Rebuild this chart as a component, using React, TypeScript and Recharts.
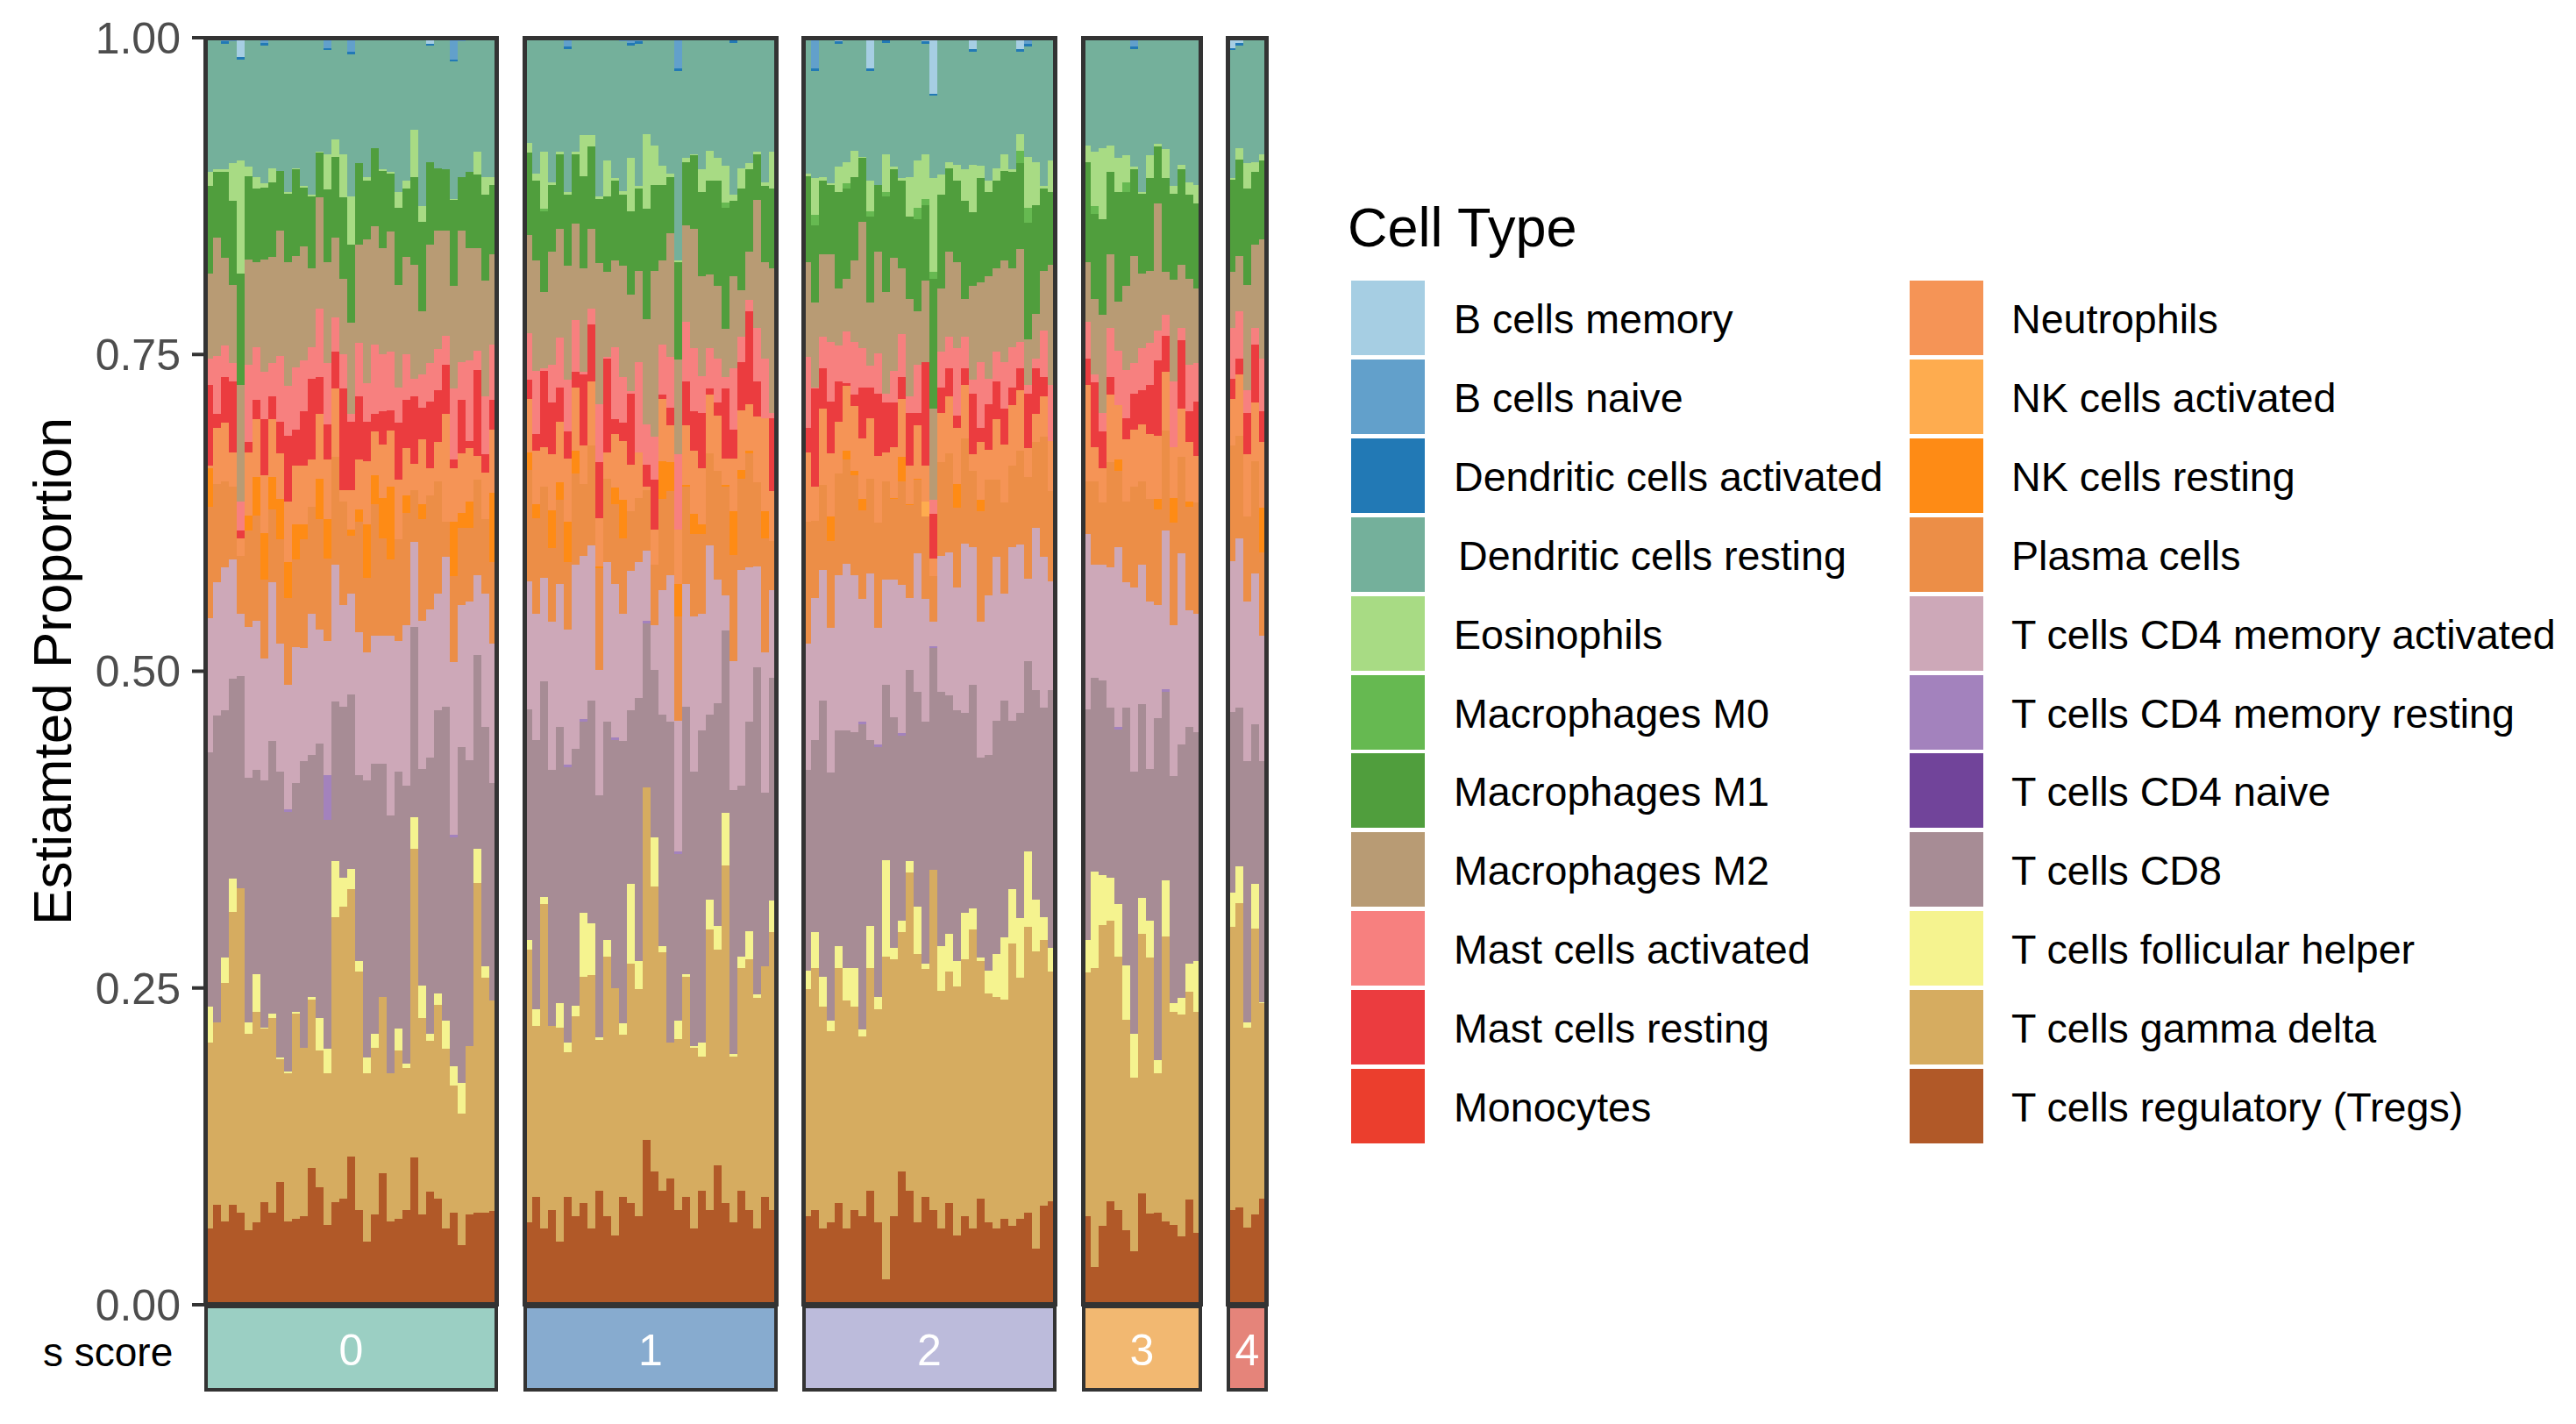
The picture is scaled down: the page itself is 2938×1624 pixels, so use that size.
import { BarChart, Bar, XAxis, YAxis } from "recharts";

// Upper edge of each stacked layer, one line per s score group
const topTregs = [
  .060,.079,.066,.079,.073,.059,.065,.081,.073,.097,.066,.068,.070,.108,.093,.063,.081,.084,.117,.075,.050,.071,.104,.066,.068,.075,.116,.071,.089,.084,.060,.073,.047,.071,.073,.073,.074,
  .065,.085,.060,.075,.050,.085,.070,.080,.060,.090,.070,.055,.085,.080,.070,.130,.105,.090,.100,.075,.085,.060,.090,.075,.110,.080,.065,.090,.075,.060,.085,.075,
  .070,.075,.060,.065,.080,.060,.075,.070,.090,.065,.020,.070,.105,.090,.065,.085,.075,.060,.080,.055,.070,.060,.084,.065,.060,.068,.062,.068,.073,.044,.078,.082,
  .070,.030,.062,.082,.075,.059,.042,.088,.072,.073,.066,.063,.054,.083,.057,
  .075,.077,.061,.071,.084,
];
const topGammaDelta = [
  .207,.223,.254,.310,.329,.214,.231,.218,.226,.194,.183,.230,.203,.241,.201,.183,.306,.314,.328,.263,.183,.203,.243,.183,.201,.187,.360,.226,.208,.237,.202,.173,.151,.204,.333,.258,.240,
  .280,.220,.316,.220,.219,.199,.228,.259,.260,.209,.275,.250,.213,.269,.249,.408,.330,.278,.207,.210,.259,.203,.196,.296,.280,.347,.196,.266,.273,.242,.267,.294,
  .249,.266,.235,.216,.266,.240,.235,.212,.266,.233,.275,.273,.294,.341,.277,.265,.343,.248,.263,.251,.273,.296,.271,.246,.243,.241,.285,.258,.298,.279,.288,.263,
  .262,.266,.300,.303,.275,.225,.179,.293,.274,.183,.291,.231,.229,.247,.231,
  .298,.317,.219,.297,.238,
];
const topFollicular = [
  .235,.223,.274,.336,.329,.223,.261,.219,.230,.195,.184,.231,.203,.243,.226,.202,.350,.337,.344,.271,.195,.214,.243,.183,.218,.190,.385,.252,.214,.246,.224,.188,.175,.204,.360,.267,.240,
  .288,.233,.322,.220,.238,.207,.236,.309,.301,.211,.288,.250,.222,.332,.271,.408,.369,.283,.207,.224,.261,.204,.207,.320,.299,.388,.198,.275,.295,.245,.267,.319,
  .264,.294,.259,.224,.283,.266,.266,.217,.299,.243,.351,.282,.303,.350,.314,.269,.343,.283,.293,.271,.309,.313,.274,.264,.277,.290,.328,.305,.358,.320,.306,.282,
  .288,.342,.339,.337,.316,.268,.214,.321,.303,.193,.335,.238,.242,.269,.271,
  .325,.346,.223,.332,.239,
];
const topCd8 = [
  .436,.465,.469,.494,.496,.416,.422,.414,.445,.421,.389,.412,.429,.434,.443,.383,.476,.472,.482,.418,.414,.427,.427,.386,.421,.410,.535,.423,.432,.469,.472,.369,.440,.430,.513,.456,.412,
  .470,.446,.492,.422,.456,.424,.439,.460,.477,.402,.460,.446,.445,.469,.479,.538,.501,.466,.460,.356,.472,.421,.453,.466,.475,.532,.406,.410,.460,.503,.404,.495,
  .422,.446,.477,.420,.453,.453,.452,.458,.446,.440,.489,.464,.449,.501,.484,.460,.518,.484,.481,.469,.467,.489,.432,.434,.461,.477,.461,.467,.508,.485,.471,.485,
  .470,.495,.493,.471,.454,.471,.421,.474,.423,.463,.484,.417,.442,.456,.452,
  .468,.471,.429,.458,.429,
];
const topCd4Activated = [
  .542,.570,.582,.588,.545,.535,.540,.510,.570,.522,.489,.519,.518,.545,.533,.524,.584,.552,.561,.531,.515,.528,.528,.528,.524,.536,.602,.540,.549,.561,.590,.507,.552,.555,.576,.561,.522,
  .571,.545,.574,.539,.569,.533,.584,.591,.599,.501,.586,.569,.545,.579,.586,.595,.536,.564,.576,.461,.569,.543,.545,.599,.572,.560,.508,.580,.582,.583,.515,.564,
  .522,.558,.580,.534,.576,.585,.576,.557,.577,.534,.572,.572,.568,.558,.593,.557,.539,.591,.594,.566,.601,.598,.539,.560,.590,.561,.598,.600,.573,.613,.590,.571,
  .608,.584,.584,.582,.598,.570,.566,.584,.555,.552,.611,.536,.593,.548,.545,
  .587,.605,.555,.577,.528,
];
const topPlasma = [
  .630,.648,.650,.646,.591,.611,.623,.572,.628,.604,.558,.588,.604,.630,.620,.589,.669,.634,.607,.618,.574,.632,.605,.588,.604,.625,.643,.620,.639,.650,.618,.575,.613,.613,.651,.620,.586,
  .659,.621,.646,.597,.635,.586,.656,.648,.678,.581,.652,.632,.605,.626,.637,.643,.584,.636,.642,.543,.646,.608,.608,.672,.658,.646,.592,.652,.672,.649,.605,.603,
  .618,.619,.647,.603,.656,.667,.655,.627,.652,.617,.650,.636,.650,.631,.651,.622,.575,.665,.672,.629,.684,.658,.626,.651,.651,.633,.662,.674,.653,.681,.685,.642,
  .650,.650,.633,.665,.658,.634,.646,.650,.636,.628,.690,.617,.669,.630,.633,
  .678,.686,.622,.666,.594,
];
const topNkResting = [
  .660,.648,.650,.646,.591,.623,.653,.609,.653,.636,.586,.616,.616,.630,.652,.620,.669,.634,.612,.628,.616,.655,.637,.646,.604,.639,.643,.632,.639,.650,.618,.618,.625,.634,.651,.620,.641,
  .673,.632,.646,.627,.649,.618,.674,.648,.678,.583,.652,.645,.635,.626,.637,.643,.584,.666,.665,.569,.647,.624,.616,.672,.658,.647,.626,.659,.674,.649,.626,.603,
  .618,.619,.647,.622,.656,.674,.658,.636,.652,.617,.650,.637,.669,.632,.652,.622,.575,.665,.672,.648,.684,.658,.635,.651,.651,.633,.662,.674,.653,.681,.685,.642,
  .650,.650,.633,.665,.667,.634,.646,.650,.636,.636,.690,.637,.669,.634,.633,
  .678,.686,.622,.666,.629,
];
const topNeutrophils = [
  .662,.692,.696,.673,.605,.673,.699,.655,.699,.672,.634,.662,.662,.667,.703,.667,.723,.643,.643,.667,.666,.689,.679,.690,.651,.676,.664,.683,.660,.681,.703,.660,.672,.676,.670,.657,.691,
  .715,.674,.677,.671,.697,.668,.724,.678,.729,.621,.673,.687,.682,.663,.673,.646,.612,.715,.694,.612,.694,.674,.660,.718,.702,.668,.668,.706,.711,.701,.700,.642,
  .673,.646,.707,.672,.697,.725,.709,.684,.700,.670,.673,.677,.715,.662,.694,.662,.589,.704,.717,.692,.726,.671,.681,.675,.699,.679,.710,.722,.676,.703,.717,.682,
  .726,.677,.660,.718,.710,.683,.691,.695,.687,.686,.736,.677,.707,.681,.670,
  .715,.734,.671,.712,.681,
];
const topMastResting = [
  .726,.703,.732,.729,.611,.681,.714,.699,.717,.697,.686,.691,.705,.731,.732,.695,.752,.723,.697,.717,.697,.703,.705,.706,.696,.714,.717,.708,.713,.722,.742,.667,.714,.682,.738,.671,.714,
  .730,.687,.737,.712,.724,.689,.736,.734,.774,.665,.747,.699,.696,.719,.673,.663,.651,.718,.708,.612,.729,.705,.704,.723,.712,.723,.691,.744,.784,.729,.700,.700,
  .692,.723,.739,.713,.729,.727,.718,.724,.724,.719,.712,.712,.732,.704,.704,.744,.624,.724,.739,.702,.739,.719,.692,.711,.729,.707,.724,.739,.719,.739,.732,.682,
  .747,.728,.689,.732,.710,.700,.719,.722,.726,.745,.765,.677,.761,.705,.713,
  .731,.747,.704,.758,.705,
];
const topMastActivated = [
  .747,.749,.757,.743,.634,.742,.756,.736,.743,.749,.725,.740,.745,.756,.786,.743,.779,.750,.703,.759,.727,.758,.750,.752,.724,.750,.731,.734,.743,.754,.765,.723,.744,.745,.753,.717,.758,
  .767,.737,.739,.742,.763,.730,.777,.736,.786,.711,.748,.756,.732,.721,.744,.695,.685,.758,.748,.671,.776,.755,.733,.755,.747,.732,.739,.764,.793,.771,.747,.704,
  .748,.724,.764,.760,.757,.768,.760,.755,.741,.751,.719,.737,.766,.717,.742,.742,.635,.752,.764,.755,.764,.730,.744,.731,.752,.744,.756,.760,.726,.747,.769,.726,
  .776,.734,.704,.771,.753,.738,.743,.755,.759,.769,.781,.729,.771,.742,.743,
  .771,.784,.722,.771,.747,
];
const topM2 = [
  .814,.842,.826,.805,.726,.825,.823,.825,.827,.848,.823,.828,.835,.818,.874,.823,.842,.810,.775,.837,.841,.851,.834,.847,.805,.827,.821,.784,.837,.848,.848,.804,.848,.834,.834,.808,.829,
  .844,.824,.799,.831,.849,.820,.853,.818,.849,.822,.815,.824,.820,.797,.816,.778,.816,.824,.846,.746,.852,.849,.812,.813,.804,.770,.812,.801,.831,.872,.823,.818,
  .823,.791,.829,.829,.802,.810,.824,.855,.791,.831,.799,.826,.818,.794,.784,.806,.707,.802,.831,.823,.794,.804,.807,.812,.818,.824,.818,.833,.762,.782,.816,.821,
  .823,.794,.781,.829,.792,.804,.828,.814,.816,.869,.815,.809,.821,.810,.802,
  .815,.828,.805,.837,.841,
];
const topM1 = [
  .883,.894,.894,.871,.814,.891,.881,.882,.886,.895,.877,.896,.882,.875,.909,.880,.906,.874,.837,.901,.887,.913,.895,.893,.866,.881,.890,.855,.902,.897,.896,.872,.890,.894,.892,.876,.884,
  .909,.887,.863,.884,.908,.876,.908,.891,.914,.873,.875,.887,.876,.863,.881,.865,.884,.884,.890,.823,.902,.907,.878,.887,.887,.866,.871,.881,.896,.908,.883,.881,
  .891,.852,.887,.884,.878,.881,.890,.905,.859,.884,.875,.896,.887,.859,.857,.866,.810,.876,.897,.887,.871,.862,.889,.878,.887,.895,.894,.901,.854,.868,.881,.878,
  .902,.861,.857,.894,.878,.878,.896,.877,.889,.914,.889,.877,.896,.876,.869,
  .888,.904,.881,.894,.903,
];
const topEosinophils = [
  .894,.896,.896,.901,.903,.898,.890,.885,.897,.895,.878,.897,.883,.876,.910,.908,.920,.908,.875,.901,.890,.913,.896,.894,.878,.887,.927,.867,.902,.897,.896,.873,.890,.894,.910,.890,.890,
  .917,.893,.910,.886,.910,.878,.910,.923,.923,.875,.903,.889,.879,.905,.883,.924,.915,.899,.893,.824,.905,.908,.896,.911,.905,.899,.876,.897,.901,.910,.886,.910,
  .893,.889,.890,.885,.898,.902,.911,.906,.887,.884,.908,.898,.889,.890,.903,.906,.889,.892,.902,.900,.896,.900,.899,.887,.897,.908,.896,.924,.906,.902,.883,.903,
  .915,.910,.913,.915,.905,.907,.898,.878,.907,.916,.912,.883,.900,.886,.884,
  .889,.913,.901,.902,.908,
];

// Thin layers that show up in a few samples only, by sample number
const cd4Resting: Record<number, number> = { 10: .002, 15: .035, 31: .002, 42: .002, 44: .002, 48: .002, 52: .002, 56: .002, 76: .002, 78: .002, 81: .002, 85: .002, 105: .002, 111: .002 };
const nkActivated: Record<number, number> = { 84: .012 };
const macrophagesM0: Record<number, number> = { 39: .002, 62: .004, 70: .008, 74: .004, 77: .004, 79: .003, 83: .009, 84: .005, 85: .005, 96: .010, 97: .012, 102: .006, 106: .008 };
const dcActivated: Record<number, number> = { 2: .002, 4: .002, 7: .002, 15: .002, 18: .002, 28: .001, 31: .002, 42: .002, 50: .002, 51: .002, 56: .002, 63: .002, 70: .002, 73: .002, 77: .002, 79: .002, 84: .002, 85: .002, 88: .002, 90: .002, 96: .002, 97: .002, 106: .002, 107: .002, 110: .002, 116: .002, 117: .002 };
const bNaive: Record<number, number> = { 2: .003, 3: .003, 7: .004, 9: .002, 15: .008, 18: .011, 31: .017, 32: .003, 37: .002, 42: .007, 49: .003, 50: .004, 51: .003, 56: .024, 63: .002, 70: .024, 79: .002, 97: .005, 107: .007 };
const bMemory: Record<number, number> = { 4: .015, 28: .005, 73: .003, 77: .024, 84: .005, 85: .044, 90: .009, 96: .009, 116: .008, 117: .004 };

const panelLabels = ["0", "1", "2", "3", "4"];
const panelSizes = [37, 32, 32, 15, 5];

const legendLeft = ["B cells memory", "B cells naive", "Dendritic cells activated", "Dendritic cells resting", "Eosinophils", "Macrophages M0", "Macrophages M1", "Macrophages M2", "Mast cells activated", "Mast cells resting", "Monocytes"];
const legendRight = ["Neutrophils", "NK cells activated", "NK cells resting", "Plasma cells", "T cells CD4 memory activated", "T cells CD4 memory resting", "T cells CD4 naive", "T cells CD8", "T cells follicular helper", "T cells gamma delta", "T cells regulatory (Tregs)"];

const cellColors: Record<string, string> = {
  "B cells memory": "#a6cee3",
  "B cells naive": "#62a0cb",
  "Dendritic cells activated": "#2279b5",
  "Dendritic cells resting": "#74b09b",
  "Eosinophils": "#a8db84",
  "Macrophages M0": "#66b951",
  "Macrophages M1": "#509e3d",
  "Macrophages M2": "#b89b74",
  "Mast cells activated": "#f7807f",
  "Mast cells resting": "#eb3c3f",
  "Monocytes": "#eb3e2d",
  "Neutrophils": "#f59456",
  "NK cells activated": "#feac4f",
  "NK cells resting": "#fe8b15",
  "Plasma cells": "#ec8e47",
  "T cells CD4 memory activated": "#cda8b8",
  "T cells CD4 memory resting": "#a382bd",
  "T cells CD4 naive": "#71449a",
  "T cells CD8": "#a78c95",
  "T cells follicular helper": "#f5f38f",
  "T cells gamma delta": "#d6ac60",
  "T cells regulatory (Tregs)": "#b15928",
};

const stripColors = ["#9bcfc3", "#87abcf", "#bcbbdb", "#f2b871", "#e5847a"];
const panelLefts = [234, 598, 916, 1235, 1400];
const barWidth = 9;
const panelTop = 43;
const panelHeight = 1445;
const stripHeight = 99;
const axisWidth = 234;
const font = "'Liberation Sans', Arial, sans-serif";

// bottom of the stack first
const stackOrder = [...legendLeft, ...legendRight].reverse();

function buildRow(i: number) {
  const gap = (hi: number, lo: number) => Math.max(0, hi - lo);
  const res = cd4Resting[i] || 0;
  const nkAct = nkActivated[i] || 0;
  const m0 = macrophagesM0[i] || 0;
  const dcAct = dcActivated[i] || 0;
  const naive = bNaive[i] || 0;
  const memory = bMemory[i] || 0;
  return {
    sample: i,
    "T cells regulatory (Tregs)": topTregs[i],
    "T cells gamma delta": gap(topGammaDelta[i], topTregs[i]),
    "T cells follicular helper": gap(topFollicular[i], topGammaDelta[i]),
    "T cells CD8": gap(topCd8[i], topFollicular[i]),
    "T cells CD4 naive": 0,
    "T cells CD4 memory resting": res,
    "T cells CD4 memory activated": gap(topCd4Activated[i], topCd8[i] + res),
    "Plasma cells": gap(topPlasma[i], topCd4Activated[i]),
    "NK cells resting": gap(topNkResting[i], topPlasma[i]),
    "NK cells activated": nkAct,
    "Neutrophils": gap(topNeutrophils[i], topNkResting[i] + nkAct),
    "Monocytes": 0,
    "Mast cells resting": gap(topMastResting[i], topNeutrophils[i]),
    "Mast cells activated": gap(topMastActivated[i], topMastResting[i]),
    "Macrophages M2": gap(topM2[i], topMastActivated[i]),
    "Macrophages M1": gap(topM1[i], topM2[i]),
    "Macrophages M0": m0,
    "Eosinophils": gap(topEosinophils[i], topM1[i] + m0),
    "Dendritic cells resting": gap(1, topEosinophils[i] + dcAct + naive + memory),
    "Dendritic cells activated": dcAct,
    "B cells naive": naive,
    "B cells memory": memory,
  };
}

function Panel({ index, start }: { index: number; start: number }) {
  const n = panelSizes[index];
  const rows = Array.from({ length: n }, (_, k) => buildRow(start + k));
  const first = index === 0;
  const plotWidth = n * barWidth;
  const left = panelLefts[index];
  return (
    <>
      <div style={{ position: "absolute", left: first ? left - axisWidth : left, top: panelTop - 30 }}>
        <BarChart
          width={plotWidth + (first ? axisWidth : 0)}
          height={panelHeight + 60}
          data={rows}
          margin={{ top: 30, right: 0, bottom: 30, left: 0 }}
          barCategoryGap={0}
          barGap={0}
        >
          <XAxis dataKey="sample" hide />
          <YAxis
            hide={!first}
            width={axisWidth}
            domain={[0, 1]}
            allowDataOverflow
            ticks={[0, 0.25, 0.5, 0.75, 1]}
            tickFormatter={(v: number) => v.toFixed(2)}
            tick={{ fill: "#4d4d4d", fontSize: 50, fontFamily: font }}
            tickSize={15}
            tickMargin={13}
            tickLine={{ stroke: "#333333", strokeWidth: 4 }}
            axisLine={false}
            label={{
              value: "Estiamted Proportion",
              angle: -90,
              position: "insideLeft",
              dx: 54,
              style: { fontSize: 62, fontFamily: font, fill: "#000000", textAnchor: "middle" },
            }}
          />
          {stackOrder.map((name) => (
            <Bar
              key={name}
              dataKey={name}
              stackId="cells"
              fill={cellColors[name]}
              isAnimationActive={false}
              shapeRendering="crispEdges"
            />
          ))}
        </BarChart>
      </div>
      <div
        style={{
          position: "absolute",
          left: left - 2,
          top: panelTop - 2,
          width: plotWidth + 4,
          height: panelHeight + 4,
          boxSizing: "border-box",
          border: "5px solid #333333",
        }}
      />
      <div
        style={{
          position: "absolute",
          left: left - 1,
          top: panelTop + panelHeight,
          width: plotWidth + 2,
          height: stripHeight,
          boxSizing: "border-box",
          border: "4px solid #333333",
          background: stripColors[index],
          color: "#ffffff",
          fontFamily: font,
          fontSize: 50,
          lineHeight: `${stripHeight - 2}px`,
          textAlign: "center",
        }}
      >
        {panelLabels[index]}
      </div>
    </>
  );
}

function LegendColumn({ names, swatchLeft, textLeft }: { names: string[]; swatchLeft: number; textLeft: number }) {
  return (
    <>
      {names.map((name, i) => {
        const top = 320 + i * 89.9;
        return (
          <div key={name}>
            <div style={{ position: "absolute", left: swatchLeft, top, width: 84, height: 85, background: cellColors[name] }} />
            <div
              style={{
                position: "absolute",
                left: name === "Dendritic cells resting" ? textLeft + 5 : textLeft,
                top: top + 2,
                height: 85,
                lineHeight: "85px",
                fontFamily: font,
                fontSize: 46.6,
                color: "#000000",
                whiteSpace: "nowrap",
              }}
            >
              {name}
            </div>
          </div>
        );
      })}
    </>
  );
}

export default function App() {
  let start = 0;
  const panels = panelSizes.map((n, index) => {
    const el = <Panel key={index} index={index} start={start} />;
    start += n;
    return el;
  });

  return (
    <div style={{ position: "absolute", left: 0, top: 0, width: 2938, height: 1624, background: "#ffffff", overflow: "hidden" }}>
      {panels}
      <div style={{ position: "absolute", left: 49, top: 1514, fontFamily: font, fontSize: 46, lineHeight: "56px", color: "#000000" }}>s score</div>
      <div style={{ position: "absolute", left: 1537, top: 222, fontFamily: font, fontSize: 63, lineHeight: "74px", color: "#000000" }}>Cell Type</div>
      <LegendColumn names={legendLeft} swatchLeft={1541} textLeft={1658} />
      <LegendColumn names={legendRight} swatchLeft={2178} textLeft={2294} />
    </div>
  );
}
